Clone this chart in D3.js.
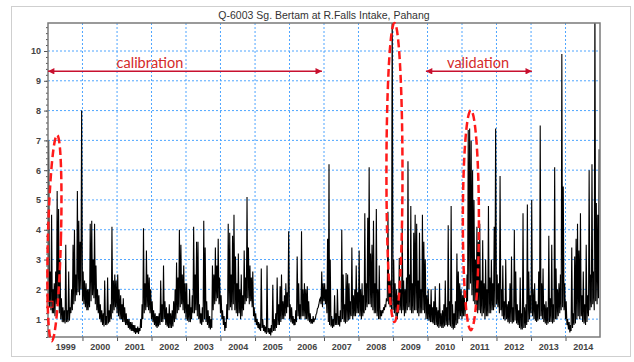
<!DOCTYPE html>
<html>
<head>
<meta charset="utf-8">
<script src="https://cdn.jsdelivr.net/npm/d3@7"></script>
<style>
  body { margin: 0; background: #fff; }
  svg { display: block; font-family: "Liberation Sans", Arial, sans-serif; }
</style>
</head>
<body>
<div id="chart"></div>
<script>
// discharge, 4 readings a month (1st, 8th, 16th, 23rd)
const years = [1999, 2000, 2001, 2002, 2003, 2004, 2005, 2006, 2007, 2008, 2009, 2010, 2011, 2012, 2013, 2014];
const readDays = [1, 8, 16, 23];

const q1999 = [1.5,7.0,1.4,2.6, 1.3,4.5,1.2,2.0, 1.2,2.2,1.1,2.6, 1.5,5.3,1.6,4.7, 1.2,3.0,1.0,1.7, 0.9,1.4,0.9,1.3,
               0.85,3.5,0.9,1.3, 0.9,2.6,0.95,1.4, 1.2,2.0,1.3,3.5, 1.5,4.0,1.6,2.5, 1.8,5.3,1.9,4.3, 1.8,3.6,2.0,8.0];
const q2000 = [1.6,2.6,1.5,2.3, 1.4,2.2,1.3,2.0, 1.3,2.0,1.4,4.2, 1.6,4.3,1.8,3.0, 1.7,4.2,1.5,2.8, 1.3,2.0,1.2,1.8,
               1.0,1.5,0.9,1.3, 0.8,1.2,0.75,2.3, 0.8,1.1,0.8,2.4, 0.85,1.3,0.9,1.5, 1.0,4.1,1.2,2.3, 1.3,2.5,1.4,2.3];
const q2001 = [1.2,2.5,1.1,2.0, 1.0,1.8,1.0,1.5, 0.9,1.7,0.9,1.4, 0.8,1.2,0.8,1.0, 0.7,1.0,0.65,0.9, 0.6,0.9,0.6,0.8,
               0.55,0.8,0.5,0.7, 0.55,0.75,0.5,0.7, 0.6,1.0,0.7,1.5, 1.0,4.05,1.2,2.2, 1.3,3.3,1.4,2.5, 1.3,2.4,1.2,2.0];
const q2002 = [1.0,1.6,0.9,1.3, 0.8,1.2,0.75,1.1, 0.7,1.1,0.75,1.2, 0.8,2.3,0.9,1.5, 0.9,2.8,1.0,1.6, 0.8,1.4,0.75,1.2,
               0.7,1.5,0.7,1.2, 0.7,1.3,0.75,1.6, 0.9,2.0,1.0,2.9, 1.2,2.4,1.3,4.0, 1.4,3.5,1.5,2.5, 1.3,2.8,1.2,2.2];
const q2003 = [1.0,2.2,0.95,1.5, 0.9,2.0,0.9,1.4, 1.0,1.8,1.2,4.1, 1.2,2.5,1.3,3.6, 1.1,3.6,1.0,1.5, 0.85,1.2,0.8,1.4,
               0.9,4.3,1.0,3.4, 0.9,1.6,0.8,1.3, 0.7,1.1,0.65,1.0, 0.7,2.8,1.3,2.5, 1.5,3.4,1.6,2.8, 1.7,3.7,1.5,2.4];
const q2004 = [1.2,1.8,1.0,1.3, 0.8,1.1,0.6,0.9, 0.7,1.5,1.0,4.2, 1.3,3.9,1.4,2.5, 1.3,3.8,1.5,4.5, 1.3,3.1,1.2,2.2,
               1.1,3.2,1.2,2.0, 1.0,2.5,1.1,1.8, 1.3,3.3,1.5,2.4, 1.6,5.1,1.7,3.4, 1.5,2.8,1.6,2.4, 1.4,2.6,1.1,1.4];
const q2005 = [0.9,1.2,0.8,1.0, 0.7,0.9,0.65,0.85, 0.6,2.7,0.7,1.0, 0.6,0.8,0.55,0.75, 0.5,2.8,0.55,0.7, 0.5,0.7,0.45,0.8,
               0.55,2.15,0.6,1.0, 0.6,1.2,0.7,2.4, 0.8,1.5,0.8,2.1, 0.9,2.5,1.0,1.6, 1.0,1.8,1.1,2.2, 1.2,1.9,1.4,3.95];
const q2006 = [1.0,1.5,0.9,1.4, 0.85,1.1,0.8,1.0, 0.8,1.3,0.9,3.1, 1.1,2.2,1.0,1.5, 1.0,3.95,1.1,2.0, 1.1,2.2,1.0,2.0,
               1.0,2.1,0.95,1.6, 0.9,1.2,0.85,1.0, 0.85,1.1,0.9,1.0, 1.0,1.15,1.2,1.35, 1.4,1.5,1.65,1.7, 1.5,2.6,1.4,2.2];
const q2007 = [1.6,2.2,1.5,2.0, 1.2,3.7,0.9,6.2, 0.8,3.0,0.75,1.1, 0.7,1.0,0.75,1.8, 0.8,1.2,0.8,2.0, 0.8,1.1,0.75,1.3,
               0.9,4.0,1.0,2.5, 0.9,1.5,0.85,2.55, 0.9,2.5,0.95,2.2, 1.0,1.6,1.1,3.4, 1.0,1.8,1.1,2.0, 1.1,2.8,1.2,1.9];
const q2008 = [1.2,3.3,1.1,2.0, 1.0,2.2,1.1,1.8, 1.2,4.55,1.3,2.2, 1.4,4.4,1.5,6.1, 1.5,3.2,1.4,3.5, 1.3,4.3,1.2,2.2,
               1.2,4.7,1.1,2.0, 1.0,2.8,1.0,1.3, 1.1,1.3,1.2,1.4, 1.3,1.5,1.4,1.7, 1.6,4.6,1.5,2.4, 1.4,2.3,1.3,12];
const q2009 = [1.3,3.0,1.2,2.2, 1.1,2.0,1.0,1.8, 1.2,3.05,1.3,2.0, 1.2,4.1,1.3,2.3, 1.1,2.0,1.2,2.4, 1.3,6.3,1.4,2.5,
               1.3,4.8,1.2,2.2, 1.2,3.9,1.3,4.5, 1.3,4.2,1.2,2.3, 1.1,3.9,1.2,2.0, 1.2,4.5,1.3,3.6, 1.2,3.0,1.0,1.8];
const q2010 = [1.0,2.0,0.95,1.5, 0.9,2.0,0.9,1.4, 0.85,1.6,0.8,2.1, 0.8,1.4,0.75,1.3, 0.7,2.2,0.75,1.2, 0.7,1.3,0.7,1.5,
               0.75,2.3,0.8,1.4, 0.75,4.15,0.8,1.6, 0.75,4.8,0.7,1.5, 0.65,1.2,0.7,1.6, 0.8,3.2,0.85,2.6, 1.0,2.2,1.1,2.0];
const q2011 = [1.0,1.8,1.1,2.0, 1.1,1.5,1.3,2.5, 1.6,7.35,2.0,7.4, 2.2,7.0,1.8,6.0, 1.6,5.0,1.5,3.0, 1.3,4.1,1.2,3.6,
               1.3,4.2,1.2,2.3, 1.1,3.65,1.2,2.2, 1.0,3.0,1.1,2.0, 1.1,4.8,1.2,2.4, 1.2,3.0,1.3,2.2, 1.3,4.1,1.4,7.4];
const q2012 = [1.5,2.5,1.4,2.2, 1.2,5.8,1.3,2.0, 1.1,2.8,1.0,1.6, 0.95,3.0,1.0,1.5, 0.9,1.6,0.85,2.2, 0.9,3.1,0.85,1.4,
               0.9,4.0,0.95,2.6, 0.85,1.5,0.8,1.3, 0.7,2.4,0.65,1.2, 0.65,4.55,0.7,1.4, 0.7,1.5,0.8,4.85, 0.9,2.6,1.0,1.8];
const q2013 = [1.2,5.0,1.1,2.0, 1.0,2.2,0.95,1.6, 0.9,1.5,0.95,2.6, 1.0,7.5,1.1,2.2, 1.0,2.7,0.9,1.5, 0.85,1.6,0.8,1.4,
               0.85,3.8,0.9,1.7, 0.9,3.5,0.85,1.5, 0.9,6.1,1.0,2.7, 1.0,2.0,1.1,2.2, 1.2,2.5,1.3,9.9, 1.4,5.45,1.3,2.2];
const q2014 = [1.0,1.6,0.8,1.0, 0.65,0.9,0.55,0.8, 0.6,3.4,0.7,1.2, 0.8,3.1,0.85,3.7, 1.0,4.2,1.1,3.3, 1.0,4.55,1.1,1.8,
               0.9,2.6,0.85,1.5, 0.8,3.5,0.9,1.8, 1.1,6.0,1.3,2.5, 1.4,6.2,1.5,2.6, 1.3,12,1.6,4.9, 1.5,4.5,1.7,6.7];
const series = [q1999, q2000, q2001, q2002, q2003, q2004, q2005, q2006,
                q2007, q2008, q2009, q2010, q2011, q2012, q2013, q2014];

const yTicks = [1, 2, 3, 4, 5, 6, 7, 8, 9, 10];
const yearLabels = ["1999", "2000", "2001", "2002", "2003", "2004", "2005", "2006",
                    "2007", "2008", "2009", "2010", "2011", "2012", "2013", "2014"];
const title = "Q-6003 Sg. Bertam at R.Falls Intake, Pahang";

// periods marked with arrows, and peaks circled with dashed ellipses
const periodNames = ["calibration", "validation"];
const periodStart = ["1999-01-01", "2009-12-15"];
const periodEnd = ["2006-12-10", "2013-01-10"];
const periodLabelAt = ["2001-12-15", "2011-06-20"];
const ellipseCentre = ["1999-03-10", "2009-01-16", "2011-04-05"];
const ellipseValue = [3.72, 5.92, 4.32];
const ellipseDays = [69, 85, 85];
const ellipseHalfQ = [3.46, 5.02, 3.69];

const W = 634, H = 362;
const mLeft = 48, mRight = 600, mTop = 23, mBottom = 337;

const svg = d3.select("#chart").append("svg")
  .attr("width", W)
  .attr("height", H);

// outer frame
svg.append("rect")
  .attr("x", 11.5).attr("y", 6.5)
  .attr("width", 619).attr("height", 350)
  .attr("fill", "none")
  .attr("stroke", "#cfcfcf");

const x = d3.scaleTime()
  .domain([new Date(1999, 0, 1), new Date(2015, 0, 1)])
  .range([mLeft, mRight]);
const y = d3.scaleLinear()
  .domain([0.4, 10.94])
  .range([mBottom, mTop]);

const points = [];
years.forEach((yr, i) => {
  series[i].forEach((v, j) => {
    points.push({ date: new Date(yr, Math.floor(j / 4), readDays[j % 4]), q: v });
  });
});

//--------------------------------------------------grid---------------------------------------
const yearStarts = years.map(yr => new Date(yr, 0, 1));

svg.append("g")
  .selectAll("line")
  .data(yearStarts.slice(1))
  .enter()
  .append("line")
  .attr("x1", d => x(d)).attr("x2", d => x(d))
  .attr("y1", mTop).attr("y2", mBottom)
  .attr("stroke", "#4ea5ff")
  .attr("stroke-dasharray", "2,2");

svg.append("g")
  .selectAll("line")
  .data(yTicks)
  .enter()
  .append("line")
  .attr("x1", mLeft).attr("x2", mRight)
  .attr("y1", d => y(d)).attr("y2", d => y(d))
  .attr("stroke", "#4ea5ff")
  .attr("stroke-dasharray", "2,2");

//--------------------------------------------------series---------------------------------------
svg.append("clipPath").attr("id", "plot")
  .append("rect")
  .attr("x", mLeft).attr("y", mTop)
  .attr("width", mRight - mLeft).attr("height", mBottom - mTop);

const line = d3.line()
  .x(d => x(d.date))
  .y(d => y(d.q));

svg.append("path")
  .datum(points)
  .attr("clip-path", "url(#plot)")
  .attr("fill", "none")
  .attr("stroke", "#000")
  .attr("stroke-width", 1.1)
  .attr("d", line);

//--------------------------------------------------axes---------------------------------------
const minor = d3.range(0.4, 10.9, 0.2);

const yMinor = svg.append("g")
  .attr("transform", "translate(" + mLeft + ",0)")
  .call(d3.axisLeft(y).tickValues(minor).tickSize(2).tickFormat(""));
const yAxis = svg.append("g")
  .attr("transform", "translate(" + mLeft + ",0)")
  .call(d3.axisLeft(y).tickValues(yTicks).tickSize(4).tickPadding(3));

const xTicks = svg.append("g")
  .attr("transform", "translate(0," + mBottom + ")")
  .call(d3.axisBottom(x).tickValues(yearStarts.slice(1)).tickSize(4).tickFormat(""));
const xLabels = svg.append("g")
  .attr("transform", "translate(0," + mBottom + ")")
  .call(d3.axisBottom(x)
    .tickValues(years.map(yr => new Date(yr, 6, 2)))
    .tickSize(0).tickPadding(7)
    .tickFormat((d, i) => yearLabels[i]));

[yMinor, yAxis, xTicks, xLabels].forEach(g => {
  g.select(".domain").remove();
  g.selectAll("line").attr("stroke", "#555");
  g.selectAll("text")
    .attr("fill", "#444")
    .style("font-size", "9px")
    .style("font-weight", "bold")
    .style("font-family", "'Liberation Sans', Arial, sans-serif");
});

// plot border
svg.append("rect")
  .attr("x", mLeft).attr("y", mTop)
  .attr("width", mRight - mLeft).attr("height", mBottom - mTop)
  .attr("fill", "none")
  .attr("stroke", "#7a7a7a")
  .attr("stroke-width", 1.5);

svg.append("text")
  .attr("x", (mLeft + mRight) / 2)
  .attr("y", 19)
  .attr("text-anchor", "middle")
  .attr("fill", "#333")
  .style("font-size", "10.5px")
  .text(title);

//--------------------------------------------------annotations---------------------------------------
const defs = svg.append("defs");
defs.append("marker")
  .attr("id", "head")
  .attr("viewBox", "0 0 10 10")
  .attr("refX", 10).attr("refY", 5)
  .attr("markerWidth", 5).attr("markerHeight", 4)
  .attr("orient", "auto-start-reverse")
  .append("path")
  .attr("d", "M0,0L10,5L0,10Z")
  .attr("fill", "#c8102e");

const arrowQ = 9.32;
periodNames.forEach((name, i) => {
  const x0 = x(new Date(periodStart[i])), x1 = x(new Date(periodEnd[i]));
  svg.append("line")
    .attr("x1", x0).attr("x2", x1)
    .attr("y1", y(arrowQ)).attr("y2", y(arrowQ))
    .attr("stroke", "#c8102e")
    .attr("stroke-width", 1.6)
    .attr("marker-start", "url(#head)")
    .attr("marker-end", "url(#head)");
  svg.append("text")
    .attr("x", x(new Date(periodLabelAt[i])))
    .attr("y", y(arrowQ) - 3)
    .attr("text-anchor", "middle")
    .attr("fill", "#d42a2a")
    .style("font-family", "Lato, 'Open Sans', sans-serif")
    .style("font-size", "14.5px")
    .text(name);
});

ellipseCentre.forEach((c, i) => {
  const cd = new Date(c);
  const cx = x(cd), cy = y(ellipseValue[i]);
  const rx = x(d3.timeDay.offset(cd, ellipseDays[i])) - cx;
  const ry = y(ellipseValue[i] - ellipseHalfQ[i]) - cy;
  svg.append("ellipse")
    .attr("cx", cx).attr("cy", cy)
    .attr("rx", rx).attr("ry", ry)
    .attr("transform", i == 0 ? "rotate(1.5," + cx + "," + cy + ")" : null)
    .attr("fill", "none")
    .attr("stroke", "#ff1a1a")
    .attr("stroke-width", 2.5)
    .attr("stroke-dasharray", "8,4");
});

// small red marker on the left ellipse
svg.append("rect")
  .attr("x", mLeft - 1).attr("y", y(1.5) - 3)
  .attr("width", 6).attr("height", 6)
  .attr("fill", "none")
  .attr("stroke", "#ff1a1a")
  .attr("stroke-width", 1);
</script>
</body>
</html>
